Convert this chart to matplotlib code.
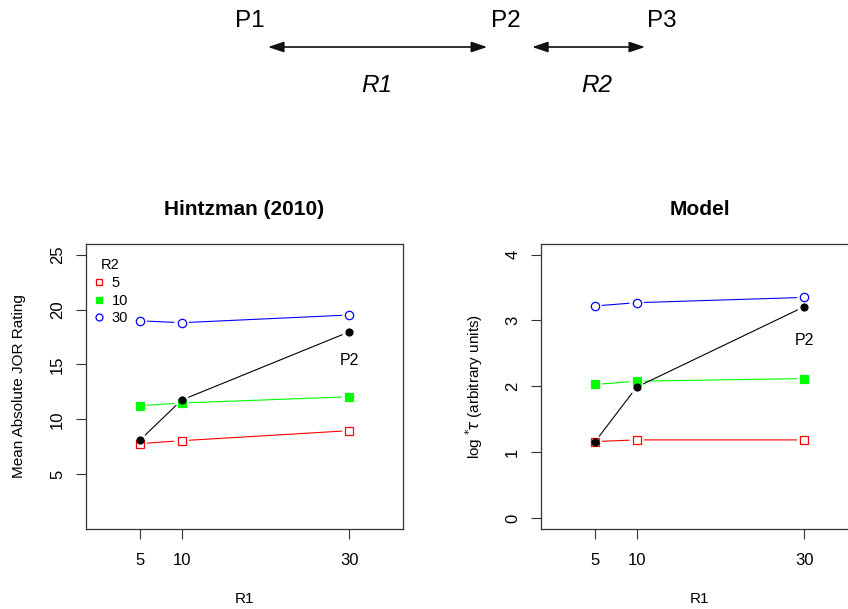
import matplotlib
matplotlib.use("Agg")
import matplotlib.pyplot as plt
from matplotlib.lines import Line2D

plt.rcParams['font.family'] = ['Liberation Sans', 'DejaVu Sans']
plt.rcParams['mathtext.fontset'] = 'dejavusans'

# Donnees
r1 = [5, 10, 30]
r2_levels = ['5', '10', '30']

hintz_r2_5 = [7.8, 8.07, 8.98]
hintz_r2_10 = [11.25, 11.5, 12.06]
hintz_r2_30 = [18.97, 18.8, 19.5]
hintz_p2 = [8.1, 11.76, 17.97]

model_r2_5 = [1.165, 1.19, 1.19]
model_r2_10 = [2.03, 2.08, 2.12]
model_r2_30 = [3.22, 3.27, 3.35]
model_p2 = [1.155, 1.99, 3.21]

# (couleur, marqueur, remplissage, taille)
series_style = [
    ('#FF0000', 's', 'none', 5.5),
    ('#00FF00', 's', '#00FF00', 5.3),
    ('#0000FF', 'o', 'none', 6.0),
]


def draw_b(ax, x, y, color, marker, face, ms):
    # type="b" de R : segments interrompus autour des points
    for i in range(len(x) - 1):
        ax.annotate('', xy=(x[i + 1], y[i + 1]), xytext=(x[i], y[i]),
                    arrowprops=dict(arrowstyle='-', color=color, lw=0.8,
                                    shrinkA=5.5, shrinkB=5.5))
    ax.plot(x, y, linestyle='none', marker=marker, color=color,
            markerfacecolor=face, markeredgecolor=color, markersize=ms,
            markeredgewidth=0.9)


def style_axes(ax, ylim, yticks, title, ylabel, ylabel_x):
    ax.set_xlim(-1.4, 36.4)
    ax.set_ylim(*ylim)
    ax.set_xticks(r1)
    ax.set_yticks(yticks)
    ax.tick_params(length=7, width=0.8, color='#333333', labelsize=12)
    ax.tick_params(axis='x', pad=10)
    ax.tick_params(axis='y', pad=8, labelrotation=90)
    for lab in ax.get_yticklabels():
        lab.set_va('center')
    for sp in ax.spines.values():
        sp.set_linewidth(0.9)
        sp.set_color('#333333')
    ax.set_title(title, fontsize=15, fontweight='bold', pad=21)
    ax.set_xlabel('R1', fontsize=11)
    ax.xaxis.set_label_coords(0.5, -0.222)
    ax.set_ylabel(ylabel, fontsize=11)
    ax.yaxis.set_label_coords(ylabel_x, 0.5)


fig = plt.figure(figsize=(8.48, 6.09), dpi=100)

# Schema en haut
for lab, x in [('P1', 0.2948), ('P2', 0.5967), ('P3', 0.7807)]:
    fig.text(x, 0.9557, lab, fontsize=17.5, ha='center', va='baseline')
for lab, x in [('R1', 0.4446), ('R2', 0.704)]:
    fig.text(x, 0.849, lab, fontsize=17.5, style='italic', ha='center', va='baseline')
for x0, x1 in [(0.316, 0.5745), (0.6275, 0.7607)]:
    fig.add_artist(matplotlib.patches.FancyArrowPatch(
        (x0, 0.9228), (x1, 0.9228), transform=fig.transFigure,
        arrowstyle='<|-|>,head_length=0.95,head_width=0.32', mutation_scale=10,
        color='#111111', lw=1.2, shrinkA=0, shrinkB=0))

# Hintzman (2010)
ax1 = fig.add_axes([0.1014, 0.1314, 0.3738, 0.468])
for ys, (c, m, f, ms) in zip([hintz_r2_5, hintz_r2_10, hintz_r2_30], series_style):
    draw_b(ax1, r1, ys, c, m, f, ms)
draw_b(ax1, r1, hintz_p2, 'black', 'o', 'black', 5.0)
ax1.text(30, 15.4, 'P2', fontsize=11.5, ha='center', va='center')
style_axes(ax1, (0.04, 25.96), [5, 10, 15, 20, 25], 'Hintzman (2010)',
           'Mean Absolute JOR Rating', -0.19)

handles = [Line2D([], [], linestyle='none', marker=m, color=c, markerfacecolor=f,
                  markeredgecolor=c, markersize=5, markeredgewidth=0.9)
           for (c, m, f, ms) in series_style]
ax1.legend(handles, r2_levels, title='R2', loc='upper left', frameon=False,
           fontsize=10.5, title_fontsize=10.5, handlelength=0.8, handletextpad=0.45,
           labelspacing=0.25, borderaxespad=0.2, bbox_to_anchor=(-0.005, 0.98))

# Model
ax2 = fig.add_axes([0.638, 0.1314, 0.3738, 0.468])
for ys, (c, m, f, ms) in zip([model_r2_5, model_r2_10, model_r2_30], series_style):
    draw_b(ax2, r1, ys, c, m, f, ms)
draw_b(ax2, r1, model_p2, 'black', 'o', 'black', 5.0)
ax2.text(30, 2.69, 'P2', fontsize=11.5, ha='center', va='center')
style_axes(ax2, (-0.16, 4.16), [0, 1, 2, 3, 4], 'Model',
           r'log $^{*}\!\tau$ (arbitrary units)', -0.177)

fig.savefig('out.png', dpi=100)
